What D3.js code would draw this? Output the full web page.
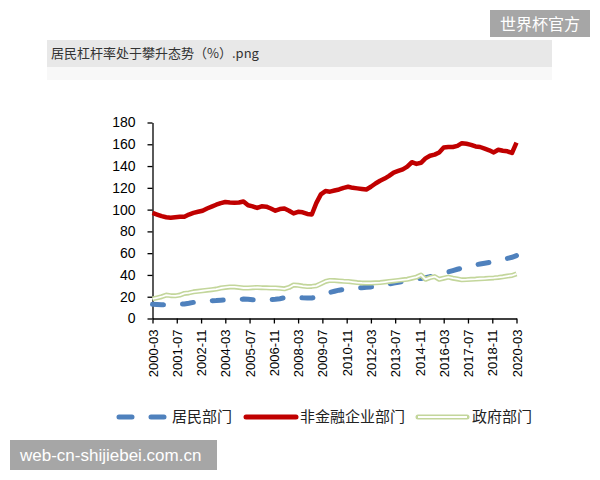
<!DOCTYPE html>
<html>
<head>
<meta charset="utf-8">
<script src="https://cdn.jsdelivr.net/npm/d3@7"></script>
<style>
  body { margin: 0; background: #fff; }
  svg { display: block; }
</style>
</head>
<body>
<svg id="chart" width="600" height="480"></svg>
<script>
// quarterly data, first point 2000-03, last point 2020-03
var startMonth = "2000-03"

var householdDebt = [
  13, 12.8, 12.6, 12.5, 12.5, 12.7, 13, 13.4, 14, 14.8,
  15.3, 15.7, 16, 16.3, 16.5, 16.8, 17, 17.2, 17.4, 17.6,
  17.8, 17.6, 17.2, 17, 16.9, 17, 17.3, 17.6, 18.2, 19,
  19.6, 19.6, 19.3, 19, 18.8, 18.8, 19.5, 21, 22.5, 24,
  25, 26, 26.7, 27.3, 27.7, 28, 28.3, 28.6, 29, 29.3,
  29.8, 30.6, 31.6, 32.5, 33.3, 34, 34.8, 35.5, 36.2, 36.8,
  37.5, 38.5, 39.5, 40.5, 41.7, 42.8, 44, 45.2, 46.2, 47.4,
  48.5, 49.3, 50, 50.7, 51.4, 52, 53, 54, 55.2, 56.2,
  57.8
]

var corporateDebt = [
  97, 95.5, 94, 93, 92.5, 93, 93.5, 93.5, 95.5, 97,
  98, 99, 101, 102.7, 104.5, 106, 107, 106.5, 106.3, 106.5,
  107.5, 104, 103, 101.5, 103, 102.7, 101, 99, 100.5, 101,
  99, 96.5, 98, 97.5, 96, 95.5, 106, 114, 117, 116.5,
  117.5, 118.5, 120, 121, 120, 119.5, 119, 118.5, 121, 124,
  126.5, 128.5, 131, 134, 135.5, 137, 139.5, 143.5, 142, 143,
  147, 149.5, 150.5, 152.5, 157, 157.5, 157.5, 158.5, 161, 160.5,
  159.5, 158, 157.5, 156, 154.5, 152.5, 155, 154, 153.5, 152,
  161.5
]

var governmentDebt = [
  18, 19, 20, 21.5, 21, 20.8, 21.5, 23, 23.5, 24.5,
  25, 25.5, 26, 26.5, 27, 28, 28.5, 29, 29, 28.5,
  28, 28, 28.3, 28.5, 28.3, 28.2, 28, 28, 27.7, 27.3,
  28.5, 30.8, 30.5, 29.8, 29.3, 29.5, 30, 32, 34, 35,
  34.8, 34.5, 34.2, 34, 33.5, 33, 32.7, 32.5, 32.5, 32.8,
  33, 33.5, 34, 34.5, 35, 35.5, 36, 37, 38, 40,
  36, 37.5, 38.5, 36, 37, 38, 37, 36.3, 35.5, 35.7,
  36, 36.2, 36.5, 36.7, 37, 37.3, 37.7, 38.3, 39, 39.5,
  41
]

var tickLabels = ["2000-03", "2001-07", "2002-11", "2004-03", "2005-07", "2006-11",
  "2008-03", "2009-07", "2010-11", "2012-03", "2013-07", "2014-11",
  "2016-03", "2017-07", "2018-11", "2020-03"]

var yTicks = [0, 20, 40, 60, 80, 100, 120, 140, 160, 180]

var seriesNames = ["居民部门", "非金融企业部门", "政府部门"]

var titleText = "居民杠杆率处于攀升态势（%）.png"
var markTop = "世界杯官方"
var markBottom = "web-cn-shijiebei.com.cn"

var svg = d3.select("#chart")
var latin = "'Liberation Sans', Arial, sans-serif"
var cjk = "'Noto Sans CJK SC', sans-serif"

var parse = d3.timeParse("%Y-%m")
var fmt = d3.timeFormat("%Y-%m")
var t0 = parse(startMonth)
var dates = householdDebt.map(function(d, i) { return d3.timeMonth.offset(t0, i * 3) })

var x = d3.scaleTime()
  .domain([t0, dates[dates.length - 1]])
  .range([152.5, 516.5])
var y = d3.scaleLinear()
  .domain([0, 180])
  .range([318.5, 122.5])

// title strip
svg.append("rect").attr("x", 47).attr("y", 67).attr("width", 505).attr("height", 13).attr("fill", "#f8f8f8")
svg.append("rect").attr("x", 47).attr("y", 40).attr("width", 505).attr("height", 27).attr("fill", "#e8e8e8")
svg.append("text")
  .attr("x", 51).attr("y", 58)
  .style("font-family", cjk).style("font-size", "13px")
  .attr("fill", "#333")
  .text(titleText)

// axes
var yAxis = svg.append("g")
  .attr("transform", "translate(152.5,0)")
  .call(d3.axisLeft(y).tickValues(yTicks).tickSize(5).tickSizeOuter(0).tickPadding(12))
yAxis.selectAll("text").style("font-family", latin).style("font-size", "14px").attr("fill", "#000")
yAxis.selectAll("line, path").attr("stroke", "#000").attr("stroke-width", 1.3)

var xAxis = svg.append("g")
  .attr("transform", "translate(0,318.5)")
  .call(d3.axisBottom(x).tickValues(tickLabels.map(parse)).tickFormat(fmt).tickSize(5).tickSizeOuter(0))
xAxis.selectAll("text")
  .attr("transform", "rotate(-90)")
  .attr("text-anchor", "end")
  .attr("x", -11).attr("y", 0).attr("dy", "0.35em")
  .style("font-family", latin).style("font-size", "13px").attr("fill", "#000")
xAxis.selectAll("line, path").attr("stroke", "#000").attr("stroke-width", 1.3)

// series
var line = d3.line()
  .x(function(d, i) { return x(dates[i]) })
  .y(function(d) { return y(d) })

svg.append("path").datum(householdDebt)
  .attr("d", line).attr("fill", "none")
  .attr("stroke", "#4f81bd").attr("stroke-width", 5)
  .attr("stroke-dasharray", "11,19").attr("stroke-linecap", "round")

svg.append("path").datum(corporateDebt)
  .attr("d", line).attr("fill", "none")
  .attr("stroke", "#c00000").attr("stroke-width", 4.5)
  .attr("stroke-linejoin", "round")

svg.append("path").datum(governmentDebt)
  .attr("d", line).attr("fill", "none")
  .attr("stroke", "#c3d69b").attr("stroke-width", 5)
  .attr("stroke-linejoin", "round")
svg.append("path").datum(governmentDebt)
  .attr("d", line).attr("fill", "none")
  .attr("stroke", "#fff").attr("stroke-width", 1.8)
  .attr("stroke-linejoin", "round")

// legend
var ly = 417
var lg = svg.append("g")
lg.append("line").attr("x1", 119).attr("x2", 164).attr("y1", ly).attr("y2", ly)
  .attr("stroke", "#4f81bd").attr("stroke-width", 5)
  .attr("stroke-dasharray", "13,19").attr("stroke-linecap", "round")
lg.append("line").attr("x1", 246).attr("x2", 296).attr("y1", ly).attr("y2", ly)
  .attr("stroke", "#c00000").attr("stroke-width", 5).attr("stroke-linecap", "round")
lg.append("line").attr("x1", 418).attr("x2", 467).attr("y1", ly).attr("y2", ly)
  .attr("stroke", "#c3d69b").attr("stroke-width", 5).attr("stroke-linecap", "round")
lg.append("line").attr("x1", 418).attr("x2", 467).attr("y1", ly).attr("y2", ly)
  .attr("stroke", "#fff").attr("stroke-width", 1.8)
var legendX = [172, 300, 472]
seriesNames.forEach(function(name, i) {
  lg.append("text")
    .attr("x", legendX[i]).attr("y", ly).attr("dy", "0.35em")
    .style("font-family", cjk).style("font-size", "15px").attr("fill", "#222")
    .text(name)
})

// watermarks
svg.append("rect").attr("x", 490).attr("y", 10).attr("width", 100).attr("height", 27).attr("fill", "#a6a6a6")
svg.append("text").attr("x", 540).attr("y", 24).attr("dy", "0.35em")
  .attr("text-anchor", "middle")
  .style("font-family", cjk).style("font-size", "16px").attr("fill", "#fff")
  .text(markTop)
svg.append("rect").attr("x", 10).attr("y", 440).attr("width", 207).attr("height", 30).attr("fill", "#a6a6a6")
svg.append("text").attr("x", 20).attr("y", 461)
  .style("font-family", latin).style("font-size", "17px").attr("fill", "#fff")
  .text(markBottom)
</script>
</body>
</html>
